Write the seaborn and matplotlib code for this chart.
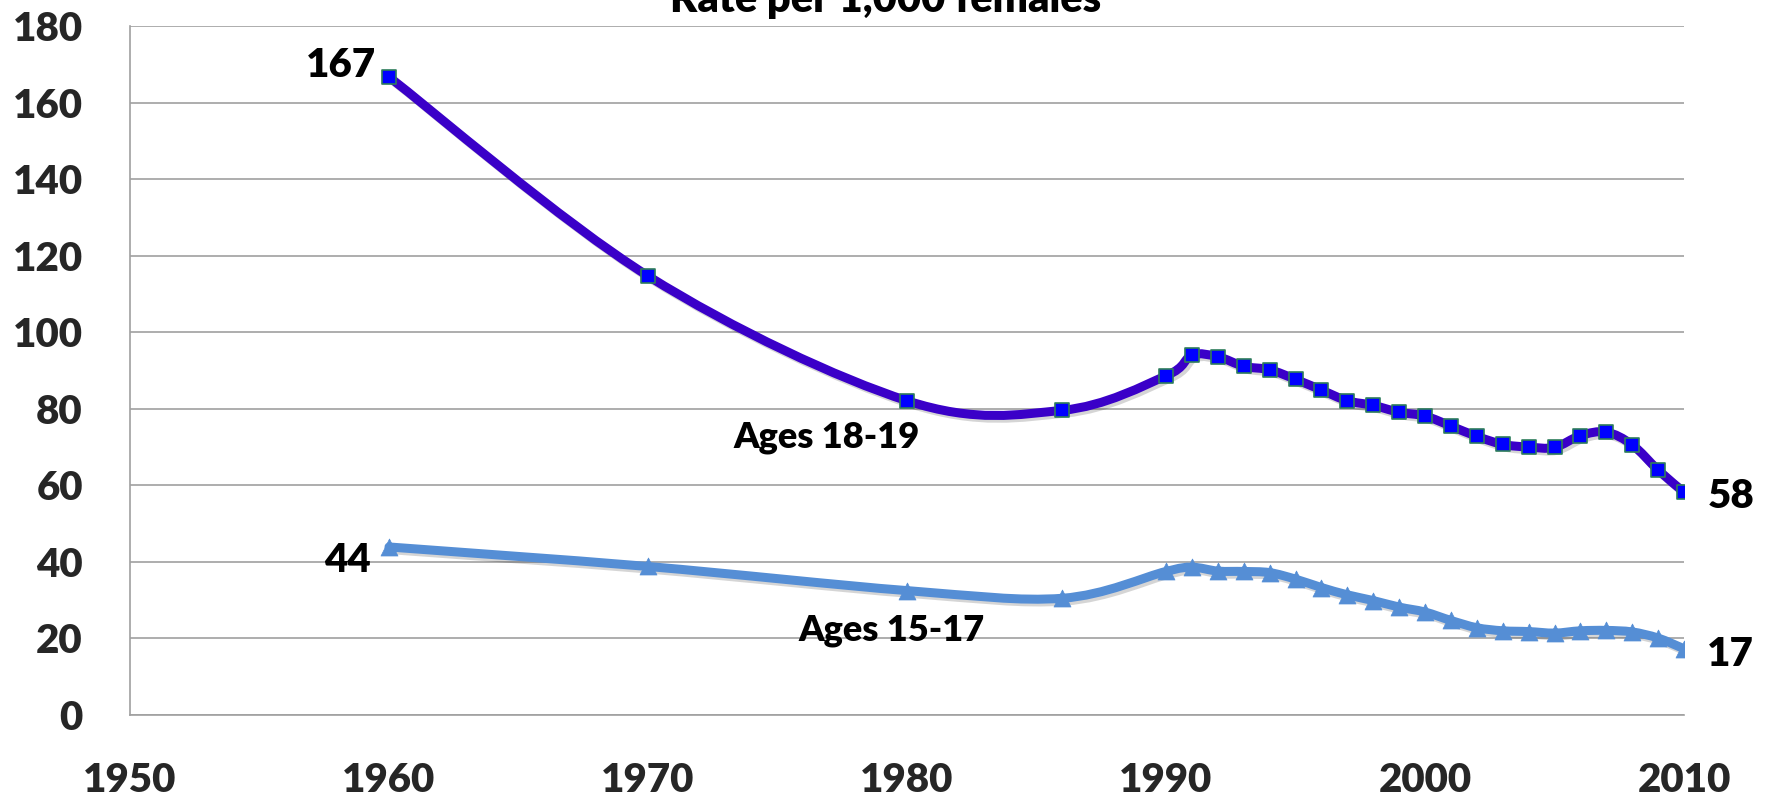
import matplotlib
matplotlib.use("Agg")
import matplotlib.pyplot as plt
import matplotlib.patheffects as pe
import numpy as np
import pandas as pd
import seaborn as sns
from matplotlib.patches import PathPatch
from matplotlib.path import Path

# ── data ─────────────────────────────────────────────────────────────
years = [1960, 1970, 1980, 1986, 1990, 1991, 1992, 1993, 1994, 1995, 1996,
         1997, 1998, 1999, 2000, 2001, 2002, 2003, 2004, 2005, 2006, 2007,
         2008, 2009, 2010]
rate_18_19 = [166.7, 114.7, 82.1, 79.6, 88.6, 94.0, 93.6, 91.1, 90.2, 87.7,
              84.9, 82.1, 80.9, 79.1, 78.1, 75.5, 72.8, 70.7, 70.0, 69.9,
              73.0, 73.9, 70.6, 64.0, 58.2]
rate_15_17 = [43.9, 38.8, 32.5, 30.5, 37.5, 38.6, 37.6, 37.5, 37.2, 35.5,
              33.3, 31.4, 29.9, 28.2, 26.9, 24.7, 22.8, 22.0, 21.8, 21.4,
              22.0, 22.1, 21.7, 20.1, 17.3]
series_names = ["Ages 18-19", "Ages 15-17"]
x_ticks = [1950, 1960, 1970, 1980, 1990, 2000, 2010]
y_ticks = [0, 20, 40, 60, 80, 100, 120, 140, 160, 180]
title = "Rate per 1,000 females"

df = pd.DataFrame({
    "year": years * 2,
    "rate": rate_18_19 + rate_15_17,
    "group": [series_names[0]] * len(years) + [series_names[1]] * len(years),
})

sns.set_theme(style="white")
plt.rcParams["font.family"] = ["Lato", "DejaVu Sans"]
W = "heavy"
plt.rcParams["font.weight"] = W

GRID = "#a0a0a0"
C_OLD = "#3a00c8"
C_YOUNG = "#558ed5"


def smooth_path(xs, ys):
    """Excel-style smoothed curve (Catmull-Rom as cubic Bezier segments)."""
    pts = np.column_stack([xs, ys]).astype(float)
    n = len(pts)
    verts = [pts[0]]
    codes = [Path.MOVETO]
    for i in range(n - 1):
        p0 = pts[i - 1] if i > 0 else pts[i]
        p1 = pts[i]
        p2 = pts[i + 1]
        p3 = pts[i + 2] if i + 2 < n else pts[i + 1]
        c1 = p1 + (p2 - p0) / 6.0
        c2 = p2 - (p3 - p1) / 6.0
        verts += [c1, c2, p2]
        codes += [Path.CURVE4] * 3
    return Path(verts, codes)


fig = plt.figure(figsize=(17.68, 7.97), dpi=100)
ax = fig.add_axes([130 / 1768, 82 / 797, (1684 - 130) / 1768, (771 - 82) / 797])

shadow = [pe.SimpleLineShadow(offset=(2, -2), alpha=0.18, rho=0.3), pe.Normal()]

for name, color in [(series_names[1], C_YOUNG), (series_names[0], C_OLD)]:
    sub = df[df["group"] == name]
    patch = PathPatch(smooth_path(sub["year"], sub["rate"]), fill=False,
                      edgecolor=color, lw=6.5, capstyle="round", joinstyle="round",
                      zorder=3, path_effects=shadow)
    ax.add_patch(patch)

sns.scatterplot(data=df[df["group"] == series_names[0]], x="year", y="rate",
                marker="s", s=115, color="#0000ff", edgecolor="#2e7d5b",
                linewidth=1.2, ax=ax, zorder=4, legend=False)
sns.scatterplot(data=df[df["group"] == series_names[1]], x="year", y="rate",
                marker="^", s=150, color=C_YOUNG, edgecolor=C_YOUNG,
                linewidth=0.5, ax=ax, zorder=4, legend=False)

ax.set_xlim(1950, 2010)
ax.set_ylim(0, 180)
ax.set_xticks(x_ticks)
ax.set_yticks(y_ticks)
ax.set_xlabel("")
ax.set_ylabel("")
ax.yaxis.grid(True, color=GRID, lw=1.2)
ax.set_axisbelow(True)
for side in ["top", "right"]:
    ax.spines[side].set_visible(False)
for side in ["left", "bottom"]:
    ax.spines[side].set_color(GRID)
    ax.spines[side].set_linewidth(1.2)
ax.tick_params(axis="both", which="major", direction="out", length=11,
               width=1.2, color=GRID, labelsize=29, pad=23)
for lab in ax.get_xticklabels() + ax.get_yticklabels():
    lab.set_fontweight(W)

# value labels at the series ends
ax.text(years[0] - 0.5, rate_18_19[0] + 3, f"{rate_18_19[0]:.0f}",
        ha="right", va="center", fontsize=29, fontweight=W, color="black")
ax.text(years[0] - 0.7, rate_15_17[0] - 3.5, f"{rate_15_17[0]:.0f}",
        ha="right", va="center", fontsize=29, fontweight=W, color="black")
ax.text(years[-1] + 0.9, rate_18_19[-1] - 1, f"{rate_18_19[-1]:.0f}",
        ha="left", va="center", fontsize=29, fontweight=W, color="black",
        clip_on=False)
ax.text(years[-1] + 0.9, rate_15_17[-1] - 1.4, f"{rate_15_17[-1]:.0f}",
        ha="left", va="center", fontsize=29, fontweight=W, color="black",
        clip_on=False)

# series labels
ax.text(1976.9, 72.6, series_names[0], ha="center", va="center",
        fontsize=26, fontweight=W, color="black")
ax.text(1979.4, 22.2, series_names[1], ha="center", va="center",
        fontsize=26, fontweight=W, color="black")

# title, partly cut off by the top edge as in the source
fig.text(886 / 1768, (797 - 12) / 797, title, ha="center", va="baseline",
         fontsize=30, fontweight=W, color="black")

fig.savefig("out.png", dpi=100)
